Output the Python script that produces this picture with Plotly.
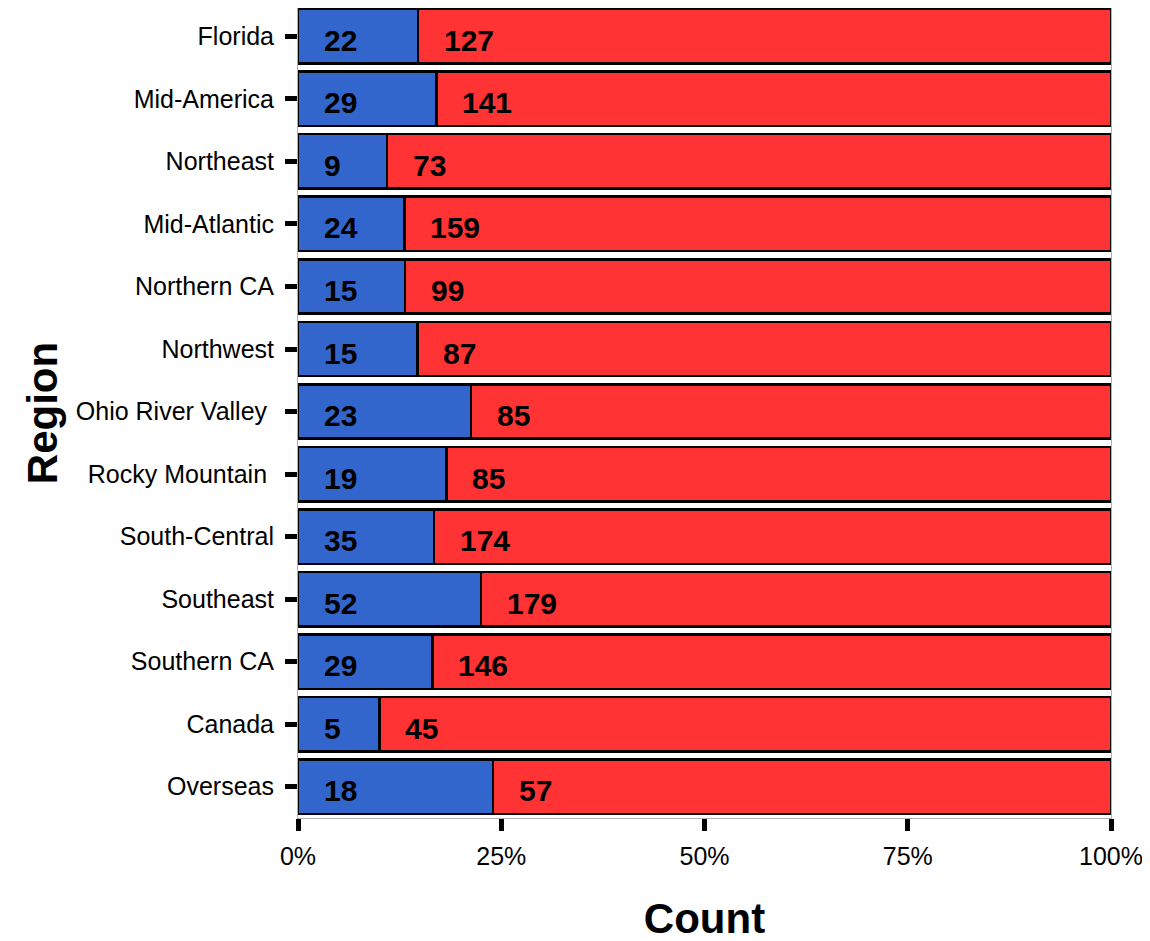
import plotly.graph_objects as go

regions = ["Florida", "Mid-America", "Northeast", "Mid-Atlantic", "Northern CA", "Northwest",
           "Ohio River Valley ", "Rocky Mountain ", "South-Central", "Southeast", "Southern CA",
           "Canada", "Overseas"]
blue_counts = [22, 29, 9, 24, 15, 15, 23, 19, 35, 52, 29, 5, 18]
red_counts = [127, 141, 73, 159, 99, 87, 85, 85, 174, 179, 146, 45, 57]
tick_vals = [0, 0.25, 0.5, 0.75, 1.0]
tick_text = ["0%", "25%", "50%", "75%", "100%"]

totals = [b + r for b, r in zip(blue_counts, red_counts)]
blue_frac = [b / t for b, t in zip(blue_counts, totals)]
red_frac = [r / t for r, t in zip(red_counts, totals)]

FONT = "Liberation Sans, Arial, sans-serif"

fig = go.Figure()
fig.add_trace(go.Bar(y=regions, x=blue_frac, orientation="h", name="blue",
                     marker=dict(color="#3366CC", line=dict(color="black", width=2.5)),
                     hoverinfo="skip"))
fig.add_trace(go.Bar(y=regions, x=red_frac, orientation="h", name="red",
                     marker=dict(color="#FF3333", line=dict(color="black", width=2.5)),
                     hoverinfo="skip"))

off = 0.029
for reg, b, r, bf in zip(regions, blue_counts, red_counts, blue_frac):
    for xpos, val in ((off, b), (bf + off, r)):
        fig.add_annotation(x=xpos, y=reg, text="<b>" + str(val) + "</b>", showarrow=False,
                           xanchor="left", yshift=-4,
                           font=dict(size=30, color="black", family=FONT),
                           xref="x", yref="y")

fig.update_layout(
    barmode="stack",
    bargap=0.13,
    showlegend=False,
    width=1150, height=941,
    margin=dict(l=290, r=47, t=0, b=131),
    plot_bgcolor="white", paper_bgcolor="white",
    font=dict(family=FONT, size=25, color="black"),
)
fig.update_xaxes(range=[0, 1], tickvals=tick_vals, ticktext=tick_text,
                 ticks="outside", ticklen=12, tickwidth=5, tickcolor="black",
                 ticklabelstandoff=4,
                 showgrid=False, zeroline=False,
                 showline=True, mirror=True, linecolor="#b0b0b0", linewidth=1,
                 tickfont=dict(size=25),
                 title=dict(text="<b>Count</b>", font=dict(size=42), standoff=34))
fig.update_yaxes(categoryorder="array", categoryarray=regions, range=[12.5, -0.453],
                 ticks="outside", ticklen=12, tickwidth=5, tickcolor="black",
                 ticklabelstandoff=6,
                 showgrid=False, zeroline=False,
                 showline=True, mirror=True, linecolor="#b0b0b0", linewidth=1,
                 tickfont=dict(size=25),
                 title=dict(text="<b>Region</b>", font=dict(size=42), standoff=5))

fig.write_html("out.html")
